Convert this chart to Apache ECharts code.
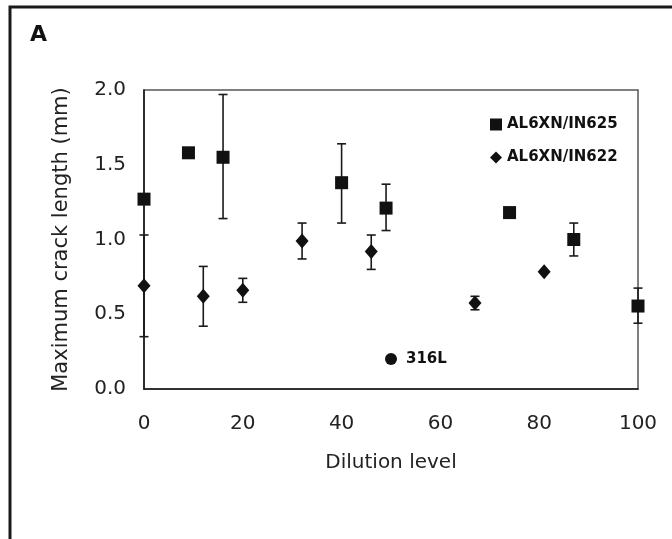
<!DOCTYPE html>
<html>
<head>
<meta charset="utf-8">
<script src="https://cdn.jsdelivr.net/npm/echarts@6/dist/echarts.min.js"></script>
<style>
  html, body { margin: 0; padding: 0; background: #fff; }
  #charts { width: 672px; height: 539px; }
</style>
</head>
<body>
<div id="charts"></div>
<script>
// AL6XN/IN625 (squares)
var sqX = [0, 9, 16, 40, 49, 74, 87, 100];
var sqY = [1.27, 1.58, 1.55, 1.38, 1.21, 1.18, 1.00, 0.555];
// error bars: [x, low, high]
var sqErr = [[16, 1.14, 1.97], [40, 1.11, 1.64], [49, 1.06, 1.37], [87, 0.89, 1.11], [100, 0.44, 0.675]];

// AL6XN/IN622 (diamonds)
var dmX = [0, 12, 20, 32, 46, 67, 81];
var dmY = [0.69, 0.62, 0.66, 0.99, 0.92, 0.575, 0.785];
var dmErr = [[0, 0.35, 1.03], [12, 0.42, 0.82], [20, 0.58, 0.74], [32, 0.87, 1.11], [46, 0.80, 1.03], [67, 0.53, 0.62]];

// 316L
var ssX = [50];
var ssY = [0.20];

var xTicks = [0, 20, 40, 60, 80, 100];
var yTicks = [0, 0.5, 1.0, 1.5, 2.0];

function pairs(xs, ys) {
    return xs.map(function (x, i) { return [x, ys[i]]; });
}

function errBar(params, api) {
    var x = api.value(0);
    var top = api.coord([x, api.value(2)]);
    var bot = api.coord([x, api.value(1)]);
    var w = 4.5;
    var st = { stroke: '#1a1a1a', lineWidth: 1.6 };
    return {
        type: 'group',
        children: [
            { type: 'line', shape: { x1: top[0], y1: top[1], x2: bot[0], y2: bot[1] }, style: st },
            { type: 'line', shape: { x1: top[0] - w, y1: top[1], x2: top[0] + w, y2: top[1] }, style: st },
            { type: 'line', shape: { x1: bot[0] - w, y1: bot[1], x2: bot[0] + w, y2: bot[1] }, style: st }
        ]
    };
}

var font = 'DejaVu Sans';
var myChart = echarts.init(document.getElementById('charts'));
var option = {
    backgroundColor: '#fff',
    animation: false,
    graphic: [
        {
            type: 'polyline',
            shape: { points: [[10, 539], [10, 7], [672, 7]] },
            style: { stroke: '#1a1a1a', lineWidth: 3, fill: null }
        },
        {
            type: 'text', left: 30, top: 24,
            style: { text: 'A', font: 'bold 22px "DejaVu Sans"', fill: '#111' }
        }
    ],
    grid: {
        left: 144,
        right: 34,
        top: 90,
        bottom: 150,
        show: true,
        borderColor: '#555',
        borderWidth: 1.5
    },
    legend: {
        orient: 'vertical',
        left: 485,
        top: 112,
        itemWidth: 12,
        itemHeight: 12,
        itemGap: 18,
        textStyle: { fontFamily: font, fontWeight: 'bold', fontSize: 15, color: '#111' },
        data: [
            { name: 'AL6XN/IN625', icon: 'rect' },
            { name: 'AL6XN/IN622', icon: 'diamond' }
        ]
    },
    xAxis: {
        type: 'value',
        min: 0,
        max: 100,
        interval: 20,
        name: 'Dilution level',
        nameLocation: 'middle',
        nameGap: 64,
        nameTextStyle: { fontFamily: font, fontSize: 20, color: '#222' },
        axisLine: { lineStyle: { color: '#1a1a1a', width: 1.6 } },
        axisTick: { show: false },
        splitLine: { show: false },
        axisLabel: {
            margin: 25,
            fontFamily: font, fontSize: 20, color: '#222',
            formatter: function (v) { return xTicks.indexOf(v) >= 0 ? String(v) : ''; }
        }
    },
    yAxis: {
        type: 'value',
        min: 0,
        max: 2,
        interval: 0.5,
        name: 'Maximum crack length (mm)',
        nameLocation: 'middle',
        nameGap: 72,
        nameTextStyle: { fontFamily: font, fontSize: 21, color: '#222' },
        axisLine: { lineStyle: { color: '#1a1a1a', width: 1.6 } },
        axisTick: { show: false },
        splitLine: { show: false },
        axisLabel: {
            margin: 18,
            fontFamily: font, fontSize: 20, color: '#222',
            formatter: function (v) { return yTicks.indexOf(v) >= 0 ? v.toFixed(1) : ''; }
        }
    },
    series: [
        {
            name: 'err625',
            type: 'custom',
            renderItem: errBar,
            data: sqErr,
            z: 1,
            silent: true
        },
        {
            name: 'err622',
            type: 'custom',
            renderItem: errBar,
            data: dmErr,
            z: 1,
            silent: true
        },
        {
            name: 'AL6XN/IN625',
            type: 'scatter',
            symbol: 'rect',
            symbolSize: 13,
            itemStyle: { color: '#111', opacity: 1 },
            data: pairs(sqX, sqY),
            z: 3
        },
        {
            name: 'AL6XN/IN622',
            type: 'scatter',
            symbol: 'diamond',
            symbolSize: [13, 15],
            itemStyle: { color: '#111', opacity: 1 },
            data: pairs(dmX, dmY),
            z: 3
        },
        {
            name: '316L',
            type: 'scatter',
            symbol: 'circle',
            symbolSize: 12,
            itemStyle: { color: '#111', opacity: 1 },
            label: {
                show: true,
                position: 'right',
                distance: 9,
                formatter: '316L',
                fontFamily: font, fontWeight: 'bold', fontSize: 15, color: '#111'
            },
            data: pairs(ssX, ssY),
            z: 3
        }
    ]
};
myChart.setOption(option);
</script>
</body>
</html>
